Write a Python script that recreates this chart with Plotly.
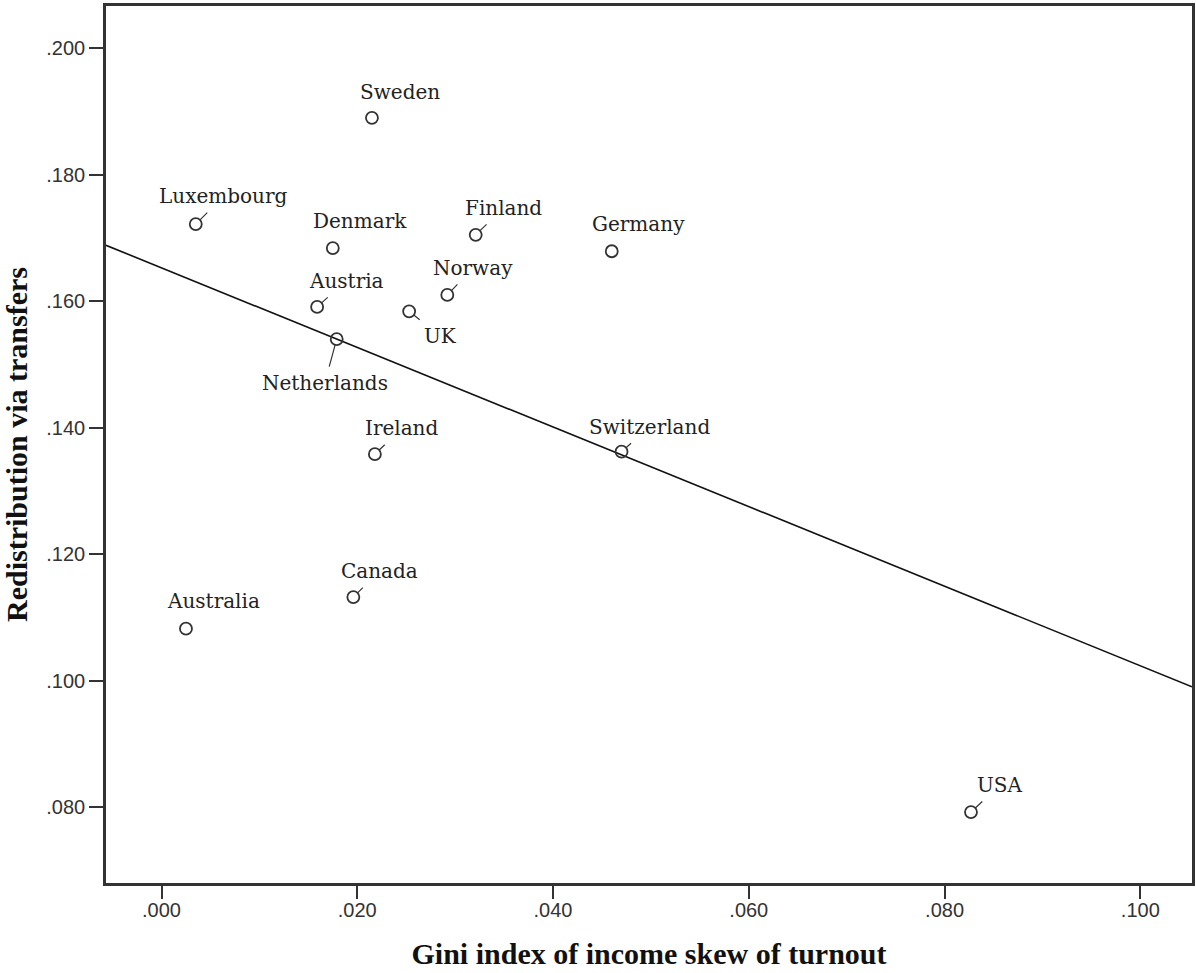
import numpy as np
import plotly.graph_objects as go

# ---------------- data ----------------
countries = ["Sweden", "Luxembourg", "Denmark", "Finland", "Germany", "Austria",
             "Norway", "UK", "Netherlands", "Ireland", "Switzerland", "Canada",
             "Australia", "USA"]
gini_skew = [0.0215, 0.0035, 0.0175, 0.0321, 0.0460, 0.0159,
             0.0292, 0.0253, 0.0179, 0.0218, 0.0470, 0.0196,
             0.0025, 0.0827]
redistribution = [0.1890, 0.1722, 0.1684, 0.1705, 0.1679, 0.1591,
                  0.1610, 0.1584, 0.1540, 0.1358, 0.1362, 0.1132,
                  0.1082, 0.0792]

x_ticks = [0.00, 0.02, 0.04, 0.06, 0.08, 0.10]
x_tick_labels = [".000", ".020", ".040", ".060", ".080", ".100"]
y_ticks = [0.08, 0.10, 0.12, 0.14, 0.16, 0.18, 0.20]
y_tick_labels = [".080", ".100", ".120", ".140", ".160", ".180", ".200"]

x_title = "Gini index of income skew of turnout"
y_title = "Redistribution via transfers"

# ---------------- layout / style settings ----------------
X_RANGE = [-0.00567, 0.10528]
Y_RANGE = [0.06798, 0.20669]

# label offsets in pixels (dx right, dy down) and whether a leader tick shows
label_offsets = {
    "Sweden": (28, -26, False), "Luxembourg": (28, -28, True),
    "Denmark": (27, -27, False), "Finland": (28, -27, True),
    "Germany": (27, -27, False), "Austria": (29, -26, True),
    "Norway": (26, -27, True), "UK": (31, 25, True),
    "Netherlands": (-12, 44, True), "Ireland": (27, -26, True),
    "Switzerland": (28, -25, True), "Canada": (26, -26, True),
    "Australia": (28, -28, False), "USA": (29, -27, True),
}

INK = "#333333"
LABEL_FONT = dict(family="DejaVu Serif", size=20, color="#222222")
TICK_FONT = dict(family="Liberation Sans", size=20, color="#333333")
TITLE_FONT = dict(family="Liberation Serif", size=30, color="#111111", weight="bold")

# ---------------- regression fit ----------------
slope, intercept = np.polyfit(np.array(gini_skew), np.array(redistribution), 1)
x_line = np.array(X_RANGE)
y_line = intercept + slope * x_line

fig = go.Figure()

fig.add_trace(go.Scatter(
    x=x_line, y=y_line, mode="lines",
    line=dict(color="#111111", width=1.6),
    hoverinfo="skip", showlegend=False,
))

fig.add_trace(go.Scatter(
    x=gini_skew, y=redistribution, mode="markers",
    marker=dict(symbol="circle-open", size=12, color=INK, line=dict(width=1.8, color=INK)),
    text=countries, showlegend=False,
))

annotations = []
for c, xv, yv in zip(countries, gini_skew, redistribution):
    dx, dy, leader = label_offsets[c]
    annotations.append(dict(
        x=xv, y=yv, xref="x", yref="y", text=c,
        showarrow=True, ax=dx, ay=dy, axref="pixel", ayref="pixel",
        arrowhead=0, arrowwidth=1.2, standoff=6, borderpad=4,
        arrowcolor=INK if leader else "rgba(0,0,0,0)",
        font=LABEL_FONT,
    ))

fig.update_layout(
    width=1196, height=973,
    margin=dict(l=106, r=1, t=6, b=90),
    paper_bgcolor="white", plot_bgcolor="white",
    showlegend=False,
    annotations=annotations,
    xaxis=dict(
        range=X_RANGE, tickvals=x_ticks, ticktext=x_tick_labels,
        ticks="outside", ticklen=13, tickwidth=2, tickcolor=INK,
        ticklabelstandoff=-6,
        showline=True, linewidth=2.5, linecolor=INK, mirror=True,
        showgrid=False, zeroline=False, tickfont=TICK_FONT,
        title=dict(text=x_title, font=TITLE_FONT, standoff=24),
    ),
    yaxis=dict(
        range=Y_RANGE, tickvals=y_ticks, ticktext=y_tick_labels,
        ticks="outside", ticklen=14, tickwidth=2, tickcolor=INK,
        showline=True, linewidth=2.5, linecolor=INK, mirror=True,
        showgrid=False, zeroline=False, tickfont=TICK_FONT,
        title=dict(text=y_title, font=TITLE_FONT, standoff=18),
    ),
)

fig.write_html(
    "out.html",
    config={"displayModeBar": False},
    post_script="document.body.style.margin='0';document.body.style.overflow='hidden';",
)
